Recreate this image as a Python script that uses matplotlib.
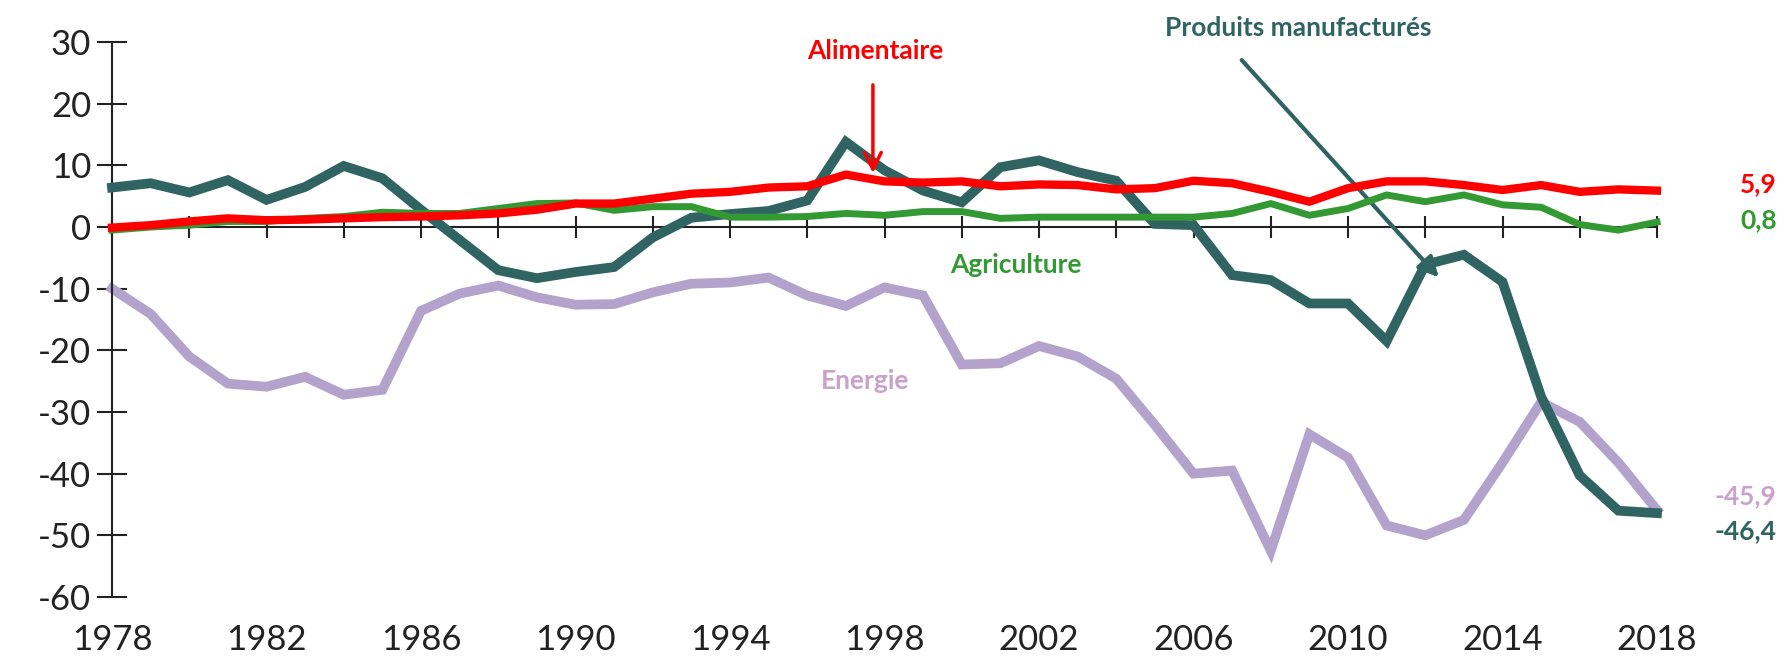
import numpy as np
import matplotlib.pyplot as plt
import matplotlib.transforms as mtransforms

plt.rcParams['font.family'] = ['Lato', 'DejaVu Sans']
plt.rcParams['axes.unicode_minus'] = False

years = np.arange(1978, 2019)

manufactures = [6.4, 7.1, 5.6, 7.6, 4.4, 6.5, 9.9, 7.9, 2.8, -2.1,
                -7.0, -8.3, -7.3, -6.5, -1.7, 1.5, 2.1, 2.6, 4.3, 13.8,
                9.2, 5.9, 4.0, 9.7, 10.8, 8.9, 7.5, 0.5, 0.3, -7.8,
                -8.6, -12.4, -12.4, -18.5, -6.1, -4.5, -8.9, -27.5, -40.3, -46.0,
                -46.4]
energie = [-10.0, -14.1, -21.0, -25.4, -25.9, -24.3, -27.2, -26.4, -13.6, -10.8,
           -9.5, -11.4, -12.6, -12.5, -10.6, -9.2, -9.0, -8.2, -11.1, -12.8,
           -9.8, -11.1, -22.3, -22.1, -19.3, -21.0, -24.6, -32.1, -40.0, -39.5,
           -52.5, -33.6, -37.4, -48.4, -50.0, -47.5, -38.2, -28.4, -31.6, -38.2,
           -45.9]
alimentaire = [-0.1, 0.3, 0.9, 1.4, 1.1, 1.2, 1.4, 1.6, 1.7, 1.9,
               2.2, 2.8, 3.8, 3.8, 4.6, 5.4, 5.7, 6.4, 6.6, 8.5,
               7.4, 7.2, 7.4, 6.6, 6.9, 6.8, 6.1, 6.3, 7.5, 7.1,
               5.7, 4.1, 6.3, 7.4, 7.4, 6.8, 6.0, 6.8, 5.7, 6.1,
               5.9]
agriculture = [-0.5, 0.0, 0.3, 0.9, 0.9, 1.4, 1.7, 2.4, 2.2, 2.2,
               3.0, 3.8, 3.9, 2.7, 3.3, 3.3, 1.6, 1.6, 1.7, 2.2,
               1.9, 2.5, 2.5, 1.4, 1.6, 1.6, 1.6, 1.6, 1.6, 2.2,
               3.8, 1.9, 3.0, 5.2, 4.1, 5.2, 3.6, 3.2, 0.4, -0.5,
               0.8]

end_labels = ['5,9', '0,8', '-45,9', '-46,4']
end_y = [5.9, 0.8, -45.9, -46.4]

c_manu = '#2f6463'
c_ener = '#b3a3cc'
c_ener_txt = '#c9a2cc'
c_alim = '#ff0000'
c_agri = '#339933'

fig = plt.figure(figsize=(17.85, 6.66), dpi=100)
ax = fig.add_axes([112 / 1785, 1 - 597 / 666, (1657 - 112) / 1785, (597 - 42) / 666])

ax.plot(years, energie, color=c_ener, lw=7, solid_joinstyle='miter', clip_on=False, zorder=2)
ax.plot(years, manufactures, color=c_manu, lw=7, solid_joinstyle='miter', clip_on=False, zorder=3)
ax.plot(years, agriculture, color=c_agri, lw=5, clip_on=False, zorder=4)
ax.plot(years, alimentaire, color=c_alim, lw=6, clip_on=False, zorder=5)

ax.set_xlim(1978, 2018)
ax.set_ylim(-60, 30)
ax.set_yticks(np.arange(-60, 31, 10))
ax.set_xticks(np.arange(1978, 2019, 2))
ax.set_xticklabels([])
ax.tick_params(axis='y', direction='inout', length=22, width=1.5, labelsize=25, pad=4, colors='#222222')
ax.tick_params(axis='x', direction='inout', length=16, width=1.5, colors='#222222')

for s in ['top', 'right']:
    ax.spines[s].set_visible(False)
ax.spines['left'].set_linewidth(1.5)
ax.spines['bottom'].set_linewidth(1.5)
ax.spines['bottom'].set_position(('data', 0))
ax.spines['left'].set_color('#222222')
ax.spines['bottom'].set_color('#222222')

# year labels at the bottom
trans = mtransforms.blended_transform_factory(ax.transData, ax.transAxes)
for yr in range(1978, 2019, 4):
    ax.text(yr, -0.078, str(yr), transform=trans, ha='center', va='center',
            fontsize=25, color='#222222')

# series annotations
ax.annotate('', xy=(1997.7, 8.3), xytext=(1997.7, 23.5),
            arrowprops=dict(arrowstyle='->', color=c_alim, lw=2.5, mutation_scale=30))
ax.text(1997.75, 28.5, 'Alimentaire', color=c_alim, fontsize=19, fontweight='bold',
        ha='center', va='center')

ax.annotate('', xy=(2012.4, -8.5), xytext=(2007.2, 27.4),
            arrowprops=dict(arrowstyle='-|>', color=c_manu, lw=3, mutation_scale=30))
ax.text(2008.7, 32.2, 'Produits manufacturés', color=c_manu, fontsize=19,
        fontweight='bold', ha='center', va='center', clip_on=False)

ax.text(2001.4, -6.2, 'Agriculture', color=c_agri, fontsize=19, fontweight='bold',
        ha='center', va='center')
ax.text(1997.5, -25.0, 'Energie', color=c_ener_txt, fontsize=19, fontweight='bold',
        ha='center', va='center')

end_colors = [c_alim, c_agri, c_ener_txt, c_manu]
end_offsets = [1.0, 0.3, 2.2, -2.9]
for lab, yv, col, off in zip(end_labels, end_y, end_colors, end_offsets):
    ax.text(2021.1, yv + off, lab, color=col, fontsize=19, fontweight='bold',
            ha='right', va='center', clip_on=False)

fig.savefig('out.png', dpi=100)
